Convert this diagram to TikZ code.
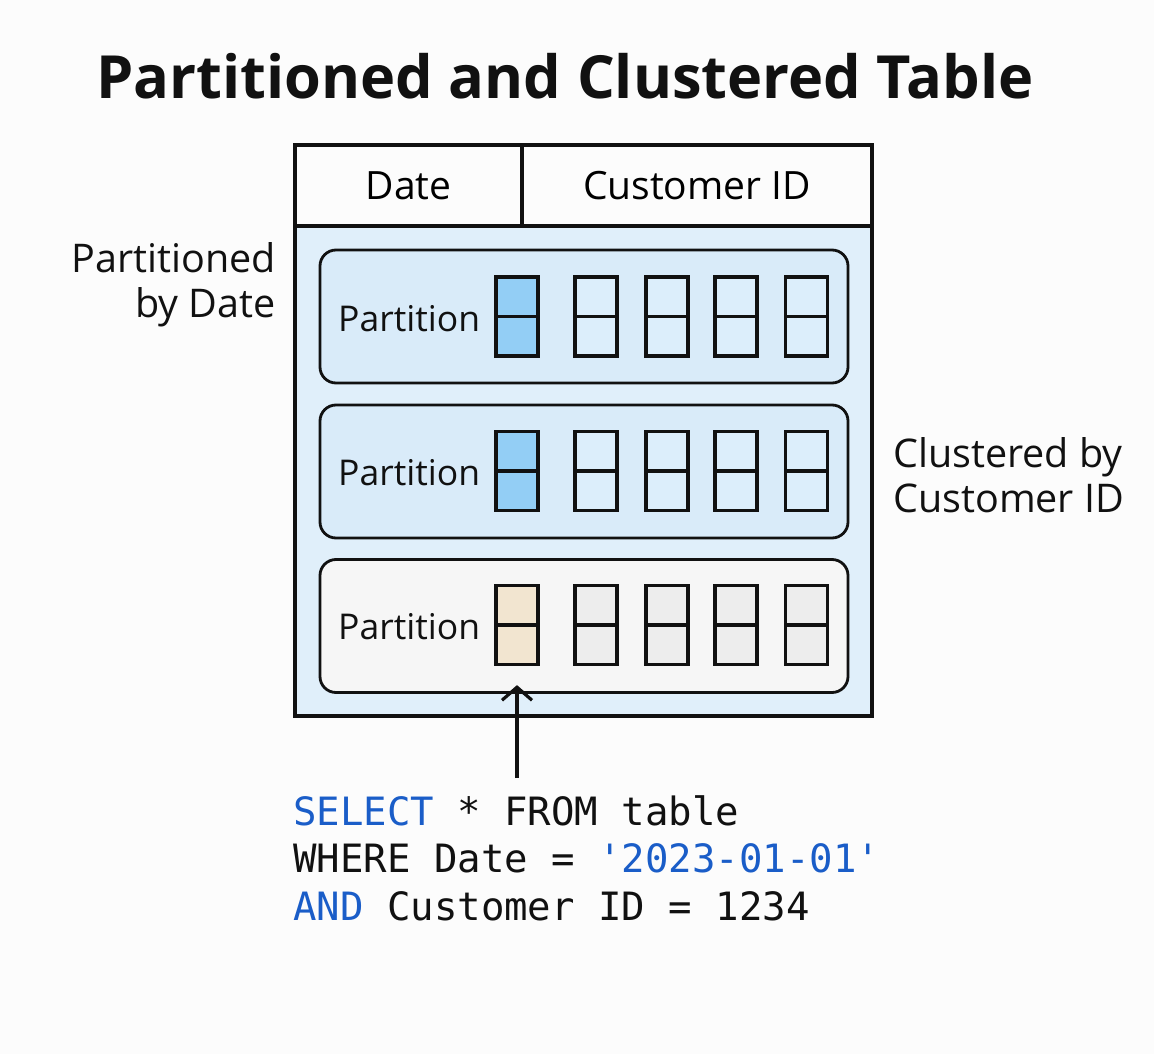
\documentclass[tikz,border=0pt]{standalone}
\usepackage{fontspec}
\setmainfont{Open Sans}
\setmonofont{DejaVu Sans Mono}
\usetikzlibrary{arrows.meta}

\definecolor{pagebg}{HTML}{FCFCFC}
\definecolor{tablefill}{HTML}{E0EFFA}
\definecolor{partfill}{HTML}{D9EBF9}
\definecolor{cellfill}{HTML}{DCEEFB}
\definecolor{hotcell}{HTML}{93CEF5}
\definecolor{plainpart}{HTML}{F6F6F6}
\definecolor{plaincell}{HTML}{EDEDED}
\definecolor{hitcell}{HTML}{F2E5D0}
\definecolor{codeblue}{HTML}{1A5DC8}
\definecolor{ink}{HTML}{111111}

\tikzset{
  hdrcell/.style={draw=ink, line width=3.2pt, inner sep=0pt,
    font=\fontsize{39}{46}\selectfont},
  partbox/.style={draw=ink, line width=2.8pt, rounded corners=16pt,
    minimum width=528pt, minimum height=133pt, inner sep=0pt},
  partlabel/.style={anchor=west, inner sep=0pt, text=ink,
    font=\fontsize{35.5}{42}\selectfont},
  block/.style={draw=ink, line width=3.2pt, minimum width=42pt,
    minimum height=79pt, inner sep=0pt,
    path picture={\draw[ink, line width=3.2pt]
      (path picture bounding box.west) -- (path picture bounding box.east);}},
  sidelabel/.style={inner sep=0pt, text=ink,
    font=\fontsize{39.5}{45}\selectfont},
  codeline/.style={anchor=base west, inner sep=0pt, text=ink,
    font=\fontsize{39}{47}\selectfont\ttfamily},
}

\begin{document}
\begin{tikzpicture}[x=1pt, y=-1pt]
\useasboundingbox[fill=pagebg] (0,0) rectangle (1154,1054);

% heading
\node[inner sep=0pt, text=ink, font=\fontsize{59.5}{66}\selectfont\bfseries]
  (title) at (565,76) {Partitioned and Clustered Table};

% table body and header
\fill[tablefill] (295,226) rectangle (872,716);
\node[hdrcell, minimum width=227pt, minimum height=81pt] (hdate) at (408.5,185.5) {Date};
\node[hdrcell, minimum width=350pt, minimum height=81pt] (hcust) at (697,185.5) {Customer ID};
\draw[ink, line width=3.2pt] (295,145) rectangle (872,716);

% partitions
\node[partbox, fill=partfill] (p1) at (584,316.5) {};
\node[partbox, fill=partfill] (p2) at (584,471.5) {};
\node[partbox, fill=plainpart] (p3) at (584,626) {};

\node[partlabel] (l1) at (338,319) {Partition};
\node[partlabel] (l2) at (338,473) {Partition};
\node[partlabel] (l3) at (338,627) {Partition};

% clustered blocks in each partition
\node[block, fill=hotcell]  (c11) at (517,316.5) {};
\node[block, fill=cellfill] (c12) at (596,316.5) {};
\node[block, fill=cellfill] (c13) at (667,316.5) {};
\node[block, fill=cellfill] (c14) at (736,316.5) {};
\node[block, fill=cellfill] (c15) at (806.5,316.5) {};

\node[block, fill=hotcell]  (c21) at (517,471) {};
\node[block, fill=cellfill] (c22) at (596,471) {};
\node[block, fill=cellfill] (c23) at (667,471) {};
\node[block, fill=cellfill] (c24) at (736,471) {};
\node[block, fill=cellfill] (c25) at (806.5,471) {};

\node[block, fill=hitcell]   (c31) at (517,625) {};
\node[block, fill=plaincell] (c32) at (596,625) {};
\node[block, fill=plaincell] (c33) at (667,625) {};
\node[block, fill=plaincell] (c34) at (736,625) {};
\node[block, fill=plaincell] (c35) at (806.5,625) {};

% side annotations
\node[sidelabel, anchor=east, align=right] (bydate) at (276,285) {Partitioned\\by Date};
\node[sidelabel, anchor=west, align=left] (bycust) at (893,475) {Clustered by\\Customer ID};

% query
\node[codeline] (q1) at (293,825) {\textcolor{codeblue}{SELECT} * FROM table};
\node[codeline] (q2) at (293,872) {WHERE Date = \textcolor{codeblue}{'2023-01-01'}};
\node[codeline] (q3) at (293,920) {\textcolor{codeblue}{AND} Customer ID = 1234};

% arrow from the query to the matching block
\coordinate (qtop) at (517,778);
\draw[ink, line width=3.2pt, -{Straight Barb[length=13pt,width=30pt]}]
  (qtop) -- ([yshift=-19pt]c31.south);
\end{tikzpicture}
\end{document}
